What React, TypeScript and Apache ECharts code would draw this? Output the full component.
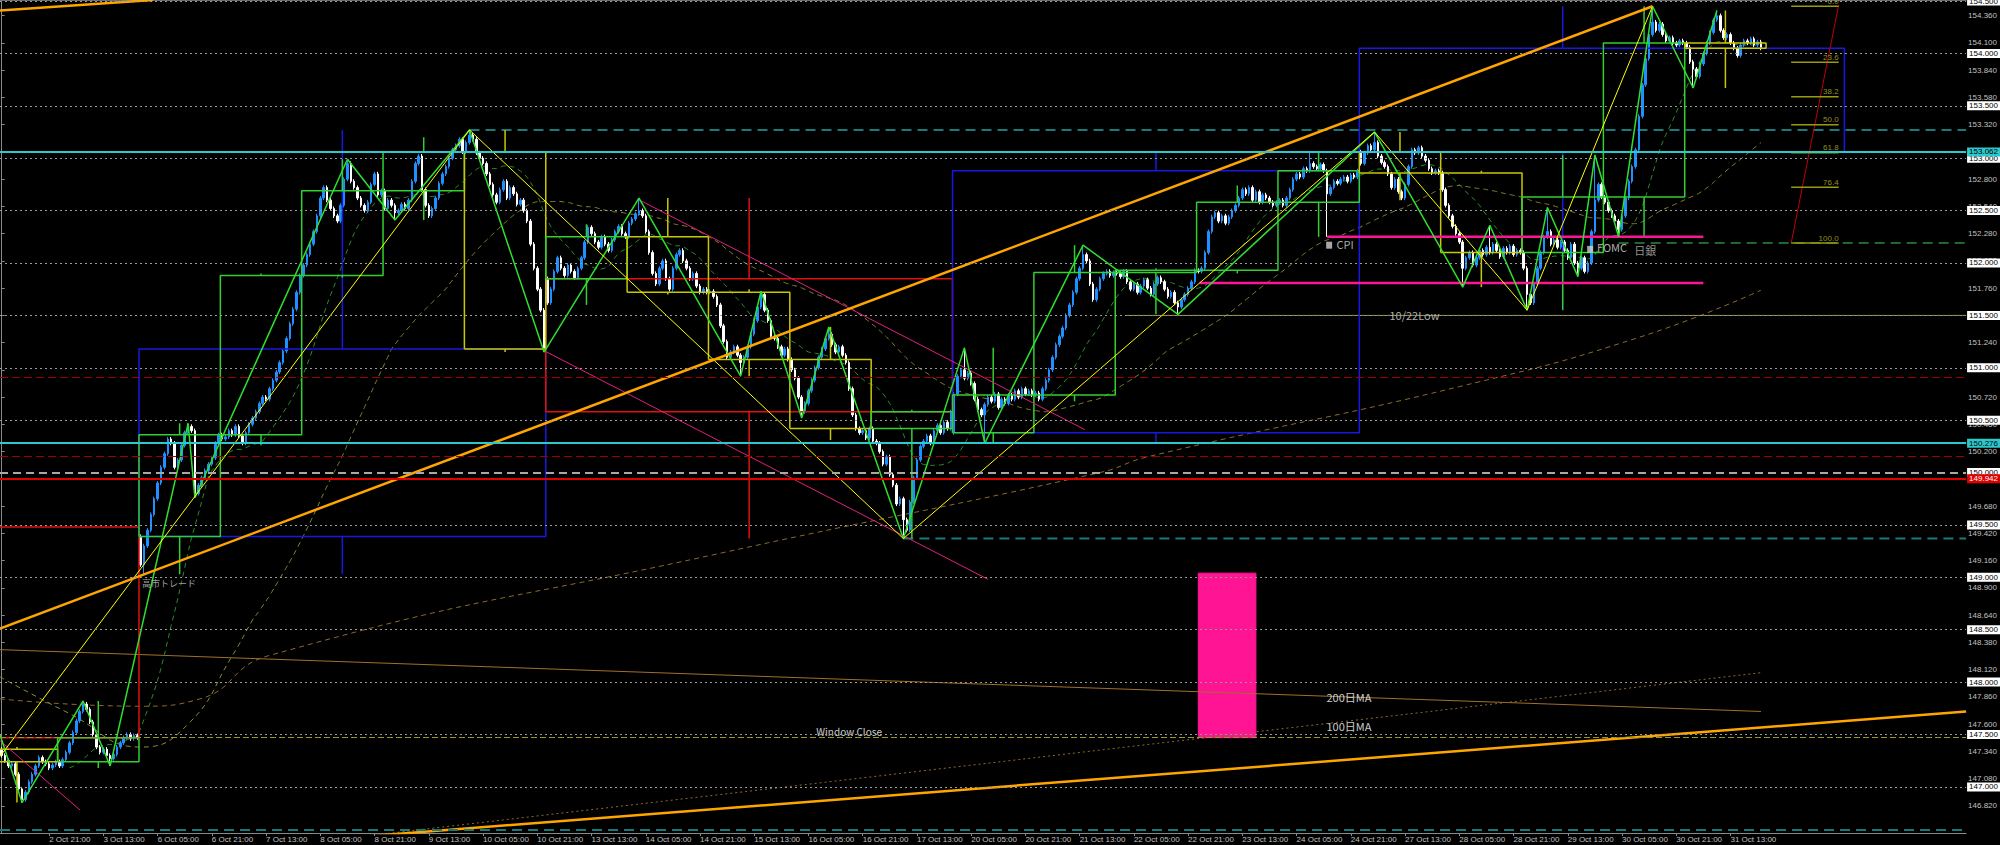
import React, { useEffect, useRef } from 'react';
import * as echarts from 'echarts';

// ---- time axis: trading sessions (day label, first hour, last hour) ----
const sessions: [string, number, number][] = [
  ['2 Oct', 7, 23], ['3 Oct', 0, 23],
  ['6 Oct', 0, 23], ['7 Oct', 0, 23], ['8 Oct', 0, 23], ['9 Oct', 0, 23], ['10 Oct', 0, 23],
  ['13 Oct', 0, 23], ['14 Oct', 0, 23], ['15 Oct', 0, 23], ['16 Oct', 0, 23], ['17 Oct', 0, 23],
  ['20 Oct', 0, 23], ['21 Oct', 0, 23], ['22 Oct', 0, 23], ['23 Oct', 0, 23], ['24 Oct', 0, 23],
  ['27 Oct', 0, 23], ['28 Oct', 0, 23], ['29 Oct', 0, 23], ['30 Oct', 0, 23], ['31 Oct', 0, 22],
];
const weekGroups: number[][] = [[0, 1], [2, 6], [7, 11], [12, 16], [17, 21]];
const CAT_COUNT = 580;
const LABEL_START = 14;
const LABEL_STEP = 16;

// ---- hourly closes ----
const closesWeek1 = [
  147.30, 147.25, 147.20, 147.22, 147.12, 146.98, 146.88, 146.95, 147.05, 147.12, 147.20, 147.28, 147.24, 147.22, 147.18, 147.21, 147.24,
  147.20, 147.26, 147.33, 147.42, 147.52, 147.63, 147.72, 147.79, 147.74, 147.62, 147.50, 147.38, 147.33, 147.36, 147.30, 147.27, 147.31, 147.38, 147.42, 147.47, 147.50, 147.46, 147.49, 147.47,
];
const closesWeek2 = [
  149.12, 149.30, 149.45, 149.60, 149.75, 149.90, 150.05, 150.18, 150.32, 150.28, 150.05, 150.12, 150.26, 150.38, 150.44, 150.40, 149.80, 149.88, 149.95, 150.02, 150.08, 150.14, 150.28, 150.36,
  150.32, 150.34, 150.40, 150.36, 150.44, 150.35, 150.28, 150.38, 150.46, 150.52, 150.58, 150.66, 150.72, 150.70, 150.80, 150.88, 150.96, 151.05, 151.16, 151.28, 151.42, 151.56, 151.72, 151.88,
  151.98, 152.08, 152.18, 152.30, 152.45, 152.62, 152.72, 152.60, 152.52, 152.45, 152.40, 152.55, 152.80, 152.95, 152.78, 152.72, 152.62, 152.55, 152.50, 152.58, 152.75, 152.85, 152.65, 152.69,
  152.52, 152.60, 152.55, 152.48, 152.50, 152.56, 152.52, 152.60, 152.78, 152.95, 153.02, 152.70, 152.55, 152.45, 152.52, 152.62, 152.76, 152.85, 152.92, 153.00, 153.08, 153.12, 153.18, 153.06,
  153.15, 153.22, 153.18, 153.05, 153.00, 152.95, 152.85, 152.75, 152.65, 152.58, 152.70, 152.78, 152.62, 152.72, 152.66, 152.56, 152.60, 152.50, 152.40, 152.18, 151.95, 151.75, 151.55, 151.18,
];
const closesWeek3 = [
  151.62, 151.75, 151.92, 152.05, 151.95, 151.88, 151.98, 151.92, 151.86, 151.95, 152.05, 152.20, 152.34, 152.28, 152.20, 152.15, 152.25, 152.18, 152.12, 152.22, 152.30, 152.35, 152.28, 152.25,
  152.38, 152.42, 152.47, 152.50, 152.45, 152.30, 152.10, 151.90, 151.80, 151.95, 152.02, 151.85, 151.75, 151.95, 152.08, 152.12, 152.02, 151.95, 151.85, 151.90, 151.78, 151.72, 151.75, 151.72,
  151.73, 151.68, 151.60, 151.40, 151.25, 151.10, 151.15, 151.20, 151.12, 151.05, 151.10, 151.20, 151.32, 151.45, 151.58, 151.70, 151.55, 151.45, 151.30, 151.28, 151.20, 151.12, 151.18, 151.08,
  150.98, 150.90, 150.72, 150.58, 150.66, 150.78, 150.88, 151.00, 151.10, 151.18, 151.28, 151.32, 151.22, 151.15, 151.20, 151.12, 151.05, 150.80, 150.55, 150.42, 150.38, 150.40, 150.33, 150.42,
  150.30, 150.28, 150.20, 150.08, 150.15, 149.98, 149.88, 149.70, 149.75, 149.55, 149.45, 149.72, 149.95, 150.12, 150.25, 150.30, 150.35, 150.28, 150.40, 150.45, 150.38, 150.48, 150.42, 150.58,
];
const closesWeek4 = [
  150.75, 150.92, 150.98, 150.90, 150.95, 150.85, 150.70, 150.60, 150.55, 150.65, 150.72, 150.68, 150.75, 150.62, 150.70, 150.66, 150.74, 150.70, 150.78, 150.72, 150.80, 150.75, 150.78, 150.74,
  150.76, 150.70, 150.80, 150.88, 150.98, 151.10, 151.22, 151.30, 151.38, 151.50, 151.60, 151.72, 151.85, 151.95, 152.08, 152.02, 151.80, 151.65, 151.75, 151.85, 151.90, 151.92, 151.88, 151.91,
  151.90, 151.87, 151.92, 151.82, 151.75, 151.80, 151.72, 151.78, 151.84, 151.76, 151.70, 151.80, 151.86, 151.82, 151.75, 151.68, 151.72, 151.62, 151.58, 151.65, 151.70, 151.76, 151.82, 151.93,
  151.92, 151.95, 152.10, 152.30, 152.44, 152.48, 152.40, 152.45, 152.38, 152.44, 152.50, 152.55, 152.62, 152.70, 152.66, 152.72, 152.60, 152.68, 152.58, 152.65, 152.62, 152.58, 152.55, 152.58,
  152.60, 152.55, 152.62, 152.70, 152.80, 152.85, 152.82, 152.90, 152.88, 152.95, 152.92, 152.90, 152.94, 152.88, 152.66, 152.72, 152.78, 152.76, 152.80, 152.82, 152.78, 152.84, 152.82, 152.88,
];
const closesWeek5 = [
  152.95, 153.05, 153.12, 153.08, 153.15, 153.02, 152.96, 152.92, 152.85, 152.72, 152.80, 152.68, 152.62, 152.75, 152.92, 153.08, 153.05, 153.10, 153.02, 152.98, 152.90, 152.86, 152.88, 152.86,
  152.70, 152.55, 152.45, 152.35, 152.28, 152.20, 151.95, 152.05, 152.10, 151.98, 152.05, 152.12, 152.08, 152.15, 152.10, 152.18, 152.12, 152.06, 152.14, 152.10, 152.16, 152.08, 152.12, 152.10,
  151.95, 151.70, 151.62, 151.80, 151.95, 152.10, 152.25, 152.30, 152.18, 152.22, 152.15, 152.20, 152.12, 152.05, 152.18, 152.00, 151.95, 152.05, 151.92, 152.00, 152.30, 152.60, 152.75, 152.63,
  152.58, 152.50, 152.45, 152.40, 152.32, 152.45, 152.62, 152.78, 152.92, 153.08, 153.40, 153.70, 153.95, 154.18, 154.30, 154.22, 154.28, 154.18, 154.12, 154.15, 154.10, 154.08, 154.12, 154.10,
  154.06, 153.92, 153.85, 153.78, 153.90, 154.00, 154.10, 154.20, 154.32, 154.36, 154.22, 154.15, 154.18, 154.10, 154.05, 153.98, 154.08, 154.12, 154.10, 154.14, 154.08, 154.11, 154.05,
];
const firstOpen = 147.36;
const prevWeekOpen = 149.48;
const currentWeekRight = 543.6;
const gapOpens: Record<number, number> = { 41: 149.39, 161: 151.85, 281: 150.38, 401: 153.06 };
const WICK_PAD = 0.02;
const highMarks: Record<number, number> = {
  24: 147.82, 55: 150.47, 102: 152.99, 138: 153.27, 188: 152.62, 224: 151.73, 244: 151.39, 284: 151.19,
  319: 152.17, 386: 153.06, 405: 153.25, 439: 152.36, 456: 152.53, 470: 153.03, 487: 154.45, 506: 154.41,
};
const lowMarks: Record<number, number> = {
  6: 146.85, 32: 147.20, 42: 149.03, 57: 149.76, 116: 152.41, 160: 151.15, 218: 150.92, 236: 150.52,
  266: 149.37, 290: 150.28, 347: 151.51, 391: 152.25, 431: 151.77, 450: 151.55, 465: 151.87, 477: 152.25, 499: 153.67,
};

// ---- axis ticks / levels ----
const priceTicks = [
  146.82, 147.08, 147.34, 147.60, 147.86, 148.12, 148.38, 148.64, 148.90, 149.16, 149.42, 149.68, 149.94, 150.20, 150.46,
  150.72, 150.98, 151.24, 151.50, 151.76, 152.02, 152.28, 152.54, 152.80, 153.06, 153.32, 153.58, 153.84, 154.10, 154.36,
];
const roundLevels = [147.0, 147.5, 148.0, 148.5, 149.0, 149.5, 150.0, 150.5, 151.0, 151.5, 152.0, 152.5, 153.0, 153.5, 154.0, 154.5];
const cyanLevels = [153.062, 150.276];
const redLevel = 149.942;
const darkRedLevels = [150.91, 150.16];
const windowCloseLevel = 147.47;
const bottomTealLevel = 146.59;
const tealRays = [[138, 153.27], [266, 149.37]];
const greenRay = [477, 152.19];
const lowRay = [332, 151.5];

// ---- drawn objects (bar index, price) ----
const greenZigzag = [
  [-0.5, 147.5], [6, 146.85], [24, 147.82], [32, 147.2], [55, 150.47], [57, 149.76], [102, 152.99], [116, 152.41], [138, 153.27],
  [160, 151.15], [188, 152.62], [218, 150.92], [224, 151.73], [236, 150.52], [244, 151.39], [266, 149.37], [284, 151.19], [290, 150.28],
  [319, 152.17], [347, 151.51], [405, 153.25], [431, 151.77], [439, 152.36], [450, 151.55], [456, 152.53], [465, 151.87], [470, 153.03],
  [477, 152.25], [487, 154.45], [499, 153.67], [506, 154.41],
];
const yellowZigzag = [[-0.5, 147.29], [138, 153.27], [266, 149.37], [405, 153.25], [450, 151.55], [487, 154.45]];
const orangeLines = [
  [[-0.5, 148.51], [487, 154.45]],
  [[76.6, 146.45], [579.5, 147.72]],
  [[-0.5, 154.41], [44.6, 154.51]],
];
const magentaLines = [
  [[-0.5, 147.44], [23.1, 146.78]],
  [[159.6, 151.17], [291, 148.98]],
  [[187.6, 152.61], [319.5, 150.41]],
];
const pinkLevels = [[391, 502, 152.25], [353.4, 502, 151.81]];
const pinkBlock = [353, 370, 147.47, 149.04];
const fibRange = { x0: 527.9, x1: 541.9, high: 154.45, low: 152.19 };
const fibLevels = [0, 23.6, 38.2, 50, 61.8, 76.4, 100];
const longMa = [[-0.5, 147.84], [41, 147.77], [58.5, 147.84], [78.5, 148.25], [212, 149.23], [324, 150.0], [338, 150.15], [430, 150.82], [483, 151.29], [519, 151.74]];
const ma75Early = [[-0.5, 148.05], [20, 147.7], [41, 147.38], [55, 147.6], [68, 148.25]];
const dma200 = [[-0.5, 148.31], [519, 147.72]];
const dma100 = [[86, 146.45], [519, 148.09]];
const annotations = [
  { text: '高市トレード', x: 41.4, y: 148.94, size: 9, color: '#c8c8c8', pos: 'right' },
  { text: 'Window Close', x: 250, y: 147.53, size: 10, color: '#ffffff', pos: 'inside' },
  { text: '200日MA', x: 390.8, y: 147.86, size: 11, color: '#ffffff', pos: 'right' },
  { text: '100日MA', x: 390.8, y: 147.58, size: 11, color: '#ffffff', pos: 'right' },
  { text: '10/22Low', x: 409.4, y: 151.5, size: 11, color: '#dddddd', pos: 'right' },
  { text: 'CPI', x: 393.8, y: 152.18, size: 11, color: '#dddddd', pos: 'right' },
  { text: 'FOMC', x: 470.6, y: 152.15, size: 11, color: '#dddddd', pos: 'right' },
  { text: '日銀', x: 481.6, y: 152.12, size: 11, color: '#bbbbbb', pos: 'right' },
];
const eventIcons = [[391.6, 152.17], [468.6, 152.13]];

const closes = [...closesWeek1, ...closesWeek2, ...closesWeek3, ...closesWeek4, ...closesWeek5];
const opens = closes.map((c, i) => (i === 0 ? firstOpen : gapOpens[i] ?? closes[i - 1]));
const highs = closes.map((c, i) => highMarks[i] ?? Math.max(opens[i], c) + WICK_PAD);
const lows = closes.map((c, i) => lowMarks[i] ?? Math.min(opens[i], c) - WICK_PAD);

const categories: string[] = [];
const dayRanges: { s: number; e: number; left: number; right: number }[] = [];
sessions.forEach(([d, h0, h1]) => {
  const s = categories.length;
  for (let h = h0; h <= h1; h++) categories.push(`${d} ${String(h).padStart(2, '0')}:00`);
  dayRanges.push({ s, e: categories.length - 1, left: s - h0 - 0.5, right: s - h0 + 23.5 });
});
while (categories.length < CAT_COUNT) categories.push('');

function sma(n: number) {
  const out: number[][] = [];
  for (let i = n - 1; i < closes.length; i++) {
    let s = 0;
    for (let k = i - n + 1; k <= i; k++) s += closes[k];
    out.push([i, +(s / n).toFixed(3)]);
  }
  return out;
}

const FONT = 'Liberation Sans, DejaVu Sans, sans-serif';
const JFONT = '"Noto Sans CJK JP", "Liberation Sans", sans-serif';

function lineS(data: any[], color: string, width = 1, type: any = 'solid', z = 4, extra: any = {}) {
  return {
    type: 'line', xAxisIndex: 1, yAxisIndex: 0, data, symbol: 'none', silent: true, clip: true, z,
    lineStyle: { color, width, type }, ...extra,
  };
}
const rect = (x0: number, x1: number, y0: number, y1: number) => [[x0, y0], [x1, y0], [x1, y1], [x0, y1], [x0, y0]];

function candleOverlay(s: number, e: number, left: number, right: number, open: number, bull: string, bear: string, width: number, midRight?: number) {
  let hi = -Infinity, lo = Infinity;
  for (let i = s; i <= e; i++) { hi = Math.max(hi, highs[i]); lo = Math.min(lo, lows[i]); }
  const close = closes[e];
  const top = Math.max(open, close), bot = Math.min(open, close);
  const col = close >= open ? bull : bear;
  const mid = (left + (midRight ?? right)) / 2;
  return [
    lineS(rect(left, right, bot, top), col, width, 'solid', 4),
    lineS([[mid, hi], [mid, top]], col, width, 'solid', 4),
    lineS([[mid, bot], [mid, lo]], col, width, 'solid', 4),
  ];
}

function buildOption(): any {
  const series: any[] = [];
  const X_END = CAT_COUNT - 0.5;

  const levelData: any[] = [];
  const boxLabel = (text: string, bg: string, fg: string) => ({
    show: true, position: 'end', formatter: text, distance: 1, backgroundColor: bg, color: fg,
    fontSize: 8, fontFamily: FONT, padding: [1, 2, 0, 2],
  });
  roundLevels.forEach((v) => {
    levelData.push({
      yAxis: v,
      lineStyle: v === 150 ? { color: '#a8a8a8', width: 2, type: [8, 5] } : { color: '#9a9a9a', width: 1, type: [2, 3] },
      label: boxLabel(v.toFixed(3), '#ffffff', '#000000'),
    });
  });
  darkRedLevels.forEach((v) => levelData.push({ yAxis: v, lineStyle: { color: '#a00000', width: 1, type: [8, 4] }, label: { show: false } }));
  levelData.push({ yAxis: windowCloseLevel, lineStyle: { color: '#9a9a20', width: 1, type: [6, 3] }, label: { show: false } });
  levelData.push({ yAxis: bottomTealLevel, lineStyle: { color: '#1a7a7a', width: 2, type: [10, 6] }, label: { show: false } });
  levelData.push({ yAxis: redLevel, lineStyle: { color: '#e00000', width: 2, type: 'solid' }, label: boxLabel(redLevel.toFixed(3), '#e00000', '#ffffff') });
  cyanLevels.forEach((v) => levelData.push({ yAxis: v, lineStyle: { color: '#2cc8cc', width: 2, type: 'solid' }, label: boxLabel(v.toFixed(3), '#2cc8cc', '#000000') }));

  // pink gap block (filled) - below everything else
  series.push({
    ...lineS(rect(pinkBlock[0], pinkBlock[1], pinkBlock[2], pinkBlock[3]), '#ff1493', 1, 'solid', 1),
    markArea: {
      silent: true, itemStyle: { color: '#ff1493' },
      data: [[{ coord: [pinkBlock[0], pinkBlock[3]] }, { coord: [pinkBlock[1], pinkBlock[2]] }]],
    },
  });

  // moving averages
  series.push(lineS(dma200, '#a0702a', 1, 'solid', 2));
  series.push(lineS(dma100, '#8a6a30', 1, [2, 3], 2));
  series.push(lineS(longMa, '#8b6a2b', 1, [5, 4], 2, { smooth: true }));
  series.push(lineS([...ma75Early, ...sma(75).filter((p) => p[0] >= 74)], '#8a8a30', 1, [5, 4], 2, { smooth: true }));
  series.push(lineS(sma(21), '#2a8a2a', 1, [5, 4], 2));

  // partial horizontal rays
  tealRays.forEach(([x, y]) => series.push(lineS([[x, y], [X_END, y]], '#1a7a7a', 2, [10, 6], 2)));
  series.push(lineS([[greenRay[0], greenRay[1]], [X_END, greenRay[1]]], '#2a8a3a', 1.5, [10, 6], 2));
  series.push(lineS([[lowRay[0], lowRay[1]], [X_END, lowRay[1]]], '#a0a040', 1, [3, 2], 2));

  // weekly candles (blue / red)
  weekGroups.forEach((g, wi) => {
    const s = dayRanges[g[0]].s, e = dayRanges[g[g.length - 1]].e;
    const left = wi === 0 ? dayRanges[0].left - 72 : dayRanges[g[0]].left;
    const naturalRight = dayRanges[g[g.length - 1]].right;
    const right = wi === weekGroups.length - 1 ? currentWeekRight : naturalRight;
    const open = wi === 0 ? prevWeekOpen : opens[s];
    series.push(...candleOverlay(s, e, left, right, open, '#1818e0', '#e01010', 1.5, naturalRight));
  });
  // daily candles (green / yellow)
  dayRanges.forEach((d, di) => {
    const open = di === 0 ? firstOpen : opens[d.s];
    series.push(...candleOverlay(d.s, d.e, d.left, d.right, open, '#30d030', '#c8c800', 1.5));
  });

  // trend lines
  magentaLines.forEach((l) => series.push(lineS(l, '#e0207f', 1, 'solid', 5)));
  pinkLevels.forEach(([x0, x1, y]) => series.push(lineS([[x0, y], [x1, y]], '#ff1493', 2.5, 'solid', 5)));
  series.push(lineS(greenZigzag, '#2ee02e', 1.5, 'solid', 6));
  series.push(lineS(yellowZigzag, '#ffff00', 1, 'solid', 6));
  orangeLines.forEach((l) => series.push(lineS(l, '#ffa500', 2.5, 'solid', 6)));

  // fibonacci
  series.push(lineS([[fibRange.x0, fibRange.low], [fibRange.x1, fibRange.high + 0.01]], '#c00000', 1, 'solid', 5));
  fibLevels.forEach((lv) => {
    const y = fibRange.high - ((fibRange.high - fibRange.low) * lv) / 100;
    series.push(lineS([[fibRange.x0, y], [fibRange.x1, y]], '#9a9a10', 1.5, 'solid', 5));
  });
  series.push({
    type: 'scatter', xAxisIndex: 1, yAxisIndex: 0, symbolSize: 0, silent: true, z: 7,
    data: fibLevels.map((lv) => ({
      value: [fibRange.x1, fibRange.high - ((fibRange.high - fibRange.low) * lv) / 100],
      label: { show: true, formatter: lv.toFixed(1), position: 'top', align: 'right', distance: 1, color: '#b8b820', fontSize: 8, fontFamily: FONT },
    })),
  });

  // annotations
  series.push({
    type: 'scatter', xAxisIndex: 1, yAxisIndex: 0, symbolSize: 0, silent: true, z: 8,
    data: annotations.map((a) => ({
      value: [a.x, a.y],
      label: { show: true, formatter: a.text, position: a.pos, distance: 0, color: a.color, fontSize: a.size, fontFamily: JFONT },
    })),
  });
  series.push({
    type: 'scatter', xAxisIndex: 1, yAxisIndex: 0, symbol: 'rect', symbolSize: [6, 7], silent: true, z: 8,
    itemStyle: { color: '#cfcfcf' }, data: eventIcons,
  });

  // candles
  series.push({
    type: 'candlestick', xAxisIndex: 0, yAxisIndex: 0, z: 3, barWidth: 2,
    data: closes.map((c, i) => [opens[i], c, lows[i], highs[i]]),
    itemStyle: { color: '#1e90ff', color0: '#ffffff', borderColor: '#1e90ff', borderColor0: '#ffffff', borderWidth: 1 },
    markLine: { symbol: 'none', silent: true, animation: false, label: { show: false }, data: levelData, z: 9 },
  });

  return {
    animation: false,
    backgroundColor: '#000000',
    grid: { left: 0, right: 33, top: 0, bottom: 12, containLabel: false },
    xAxis: [
      {
        type: 'category', data: categories, boundaryGap: true, position: 'bottom',
        axisLine: { show: true, lineStyle: { color: '#8a8a8a', width: 1 } },
        axisTick: {
          show: true, alignWithLabel: true, length: 3, lineStyle: { color: '#8a8a8a' },
          interval: (i: number) => i >= LABEL_START && (i - LABEL_START) % LABEL_STEP === 0 && categories[i] !== '',
        },
        axisLabel: {
          show: true, color: '#c0c0c0', fontSize: 8, fontFamily: FONT, align: 'left', margin: 2,
          interval: (i: number) => i >= LABEL_START && (i - LABEL_START) % LABEL_STEP === 0 && categories[i] !== '',
        },
        splitLine: { show: false },
      },
      {
        type: 'value', min: -0.5, max: CAT_COUNT - 0.5, position: 'top',
        axisLine: { show: true, lineStyle: { color: '#707070', width: 1 } },
        axisTick: { show: false }, axisLabel: { show: false }, splitLine: { show: false },
      },
    ],
    yAxis: [
      {
        type: 'value', position: 'right', min: 146.56, max: 154.51, scale: true,
        axisLine: { show: true, lineStyle: { color: '#8a8a8a', width: 1 } },
        axisTick: { show: true, length: 3, lineStyle: { color: '#8a8a8a' }, customValues: priceTicks },
        axisLabel: {
          show: true, color: '#c0c0c0', fontSize: 8, fontFamily: FONT, margin: 2,
          customValues: priceTicks, formatter: (v: number) => v.toFixed(3),
        },
        splitLine: { show: false },
      },
    ],
    series,
  };
}

export default function App() {
  const ref = useRef<HTMLDivElement>(null);
  useEffect(() => {
    if (!ref.current) return;
    const chart = echarts.init(ref.current, null, { renderer: 'svg' });
    chart.setOption(buildOption());
    return () => chart.dispose();
  }, []);
  return (
    <div
      ref={ref}
      style={{ position: 'fixed', left: 0, top: 0, width: 2000, height: 845, background: '#000' }}
    />
  );
}
